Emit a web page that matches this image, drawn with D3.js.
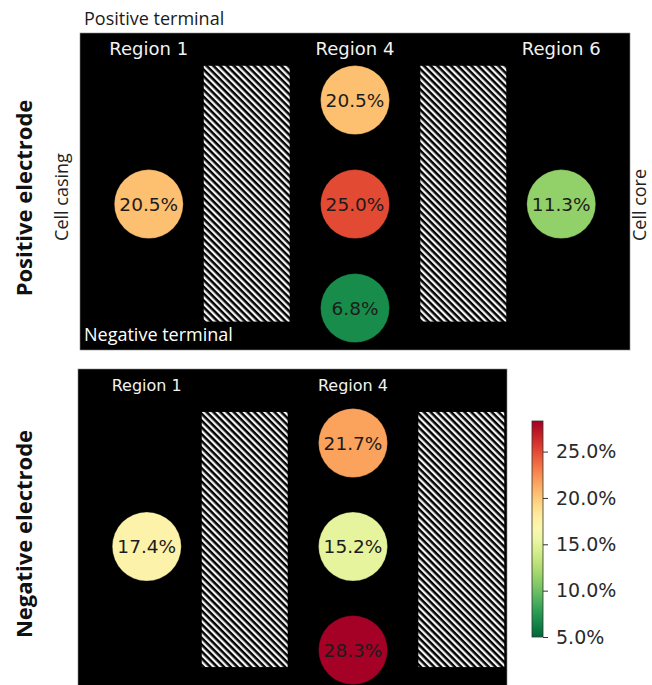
<!DOCTYPE html>
<html><head><meta charset="utf-8">
<script src="https://cdn.jsdelivr.net/npm/d3@7"></script>
<style>body{margin:0;background:#fff}svg{display:block}</style>
</head><body>
<script>
// ---- data ----
const topRegions = ["Region 1", "Region 4", "Region 6"];
const bottomRegions = ["Region 1", "Region 4"];
const posRegion = ["Region 1", "Region 4", "Region 4", "Region 4", "Region 6"];
const posRow = [2, 1, 2, 3, 2];
const posValues = [20.5, 20.5, 25.0, 6.8, 11.3];
const negRegion = ["Region 1", "Region 4", "Region 4", "Region 4"];
const negRow = [2, 1, 2, 3];
const negValues = [17.4, 21.7, 15.2, 28.3];
const colorTicks = [5, 10, 15, 20, 25];
const colorDomain = [5, 28.3];

const W = 652, H = 685;
const svg = d3.select("body").append("svg").attr("width", W).attr("height", H);
const defs = svg.append("defs");
const pat = defs.append("pattern").attr("id", "hatch").attr("patternUnits", "userSpaceOnUse")
  .attr("width", 4.8).attr("height", 10).attr("patternTransform", "rotate(-45)");
pat.append("rect").attr("width", 4.8).attr("height", 10).attr("fill", "#000");
pat.append("rect").attr("x", 0).attr("width", 2.3).attr("height", 10).attr("fill", "#f4f4f4");

const color = v => d3.interpolateRdYlGn(1 - (v - colorDomain[0]) / (colorDomain[1] - colorDomain[0]));

const colPos = {"Region 1": 1, "Region 4": 4, "Region 6": 7};
const hatches = [[1.8, 3.05], [4.95, 6.2]];

function panel(cfg) {
  const x = d3.scaleLinear().domain([0, 8]).range([cfg.x0, cfg.x0 + 550]);
  const y = d3.scaleLinear().domain([cfg.yd0, cfg.yd0 + 1]).range([cfg.y0, cfg.y0 + cfg.rowH]);
  const g = svg.append("g");
  const clipId = "clip" + cfg.id;
  defs.append("clipPath").attr("id", clipId).append("rect")
    .attr("x", cfg.x0).attr("y", cfg.y0).attr("width", cfg.w).attr("height", cfg.h);
  g.append("rect").attr("x", cfg.x0).attr("y", cfg.y0).attr("width", cfg.w).attr("height", cfg.h)
    .attr("fill", "#000").attr("stroke", "#888").attr("stroke-width", 0.6);
  const inner = g.append("g").attr("clip-path", `url(#${clipId})`);
  inner.selectAll("rect.h").data(hatches).join("rect").attr("class", "h")
    .attr("x", d => x(d[0])).attr("width", d => x(d[1]) - x(d[0]))
    .attr("y", y(cfg.hy[0])).attr("height", y(cfg.hy[1]) - y(cfg.hy[0]))
    .attr("fill", "url(#hatch)");
  g.selectAll("text.reg").data(cfg.regions).join("text").attr("class", "reg")
    .attr("x", d => x(colPos[d])).attr("y", cfg.labelY)
    .attr("text-anchor", "middle").attr("fill", "#f2f2f2")
    .attr("font-family", "DejaVu Sans").attr("font-size", cfg.labelSize).text(d => d);
  const pts = cfg.values.map((v, i) => ({v, r: cfg.rows[i], reg: cfg.regs[i]}));
  const c = inner.selectAll("g.pt").data(pts).join("g").attr("class", "pt")
    .attr("transform", d => `translate(${x(colPos[d.reg])},${y(d.r)})`);
  c.append("circle").attr("r", 34.5).attr("fill", d => color(d.v))
    .attr("stroke", "rgba(0,0,0,0.25)").attr("stroke-width", 1);
  c.append("text").attr("text-anchor", "middle").attr("dy", "0.36em")
    .attr("font-family", "DejaVu Sans").attr("font-size", 18.5).attr("fill", "#1c1c1c")
    .text(d => d.v.toFixed(1) + "%");
}

panel({id: 1, x0: 80, y0: 33, w: 550, h: 317, yd0: 0.355, rowH: 104, hy: [0.67, 3.13],
  regions: topRegions, labelY: 55, labelSize: 18,
  values: posValues, rows: posRow, regs: posRegion});
panel({id: 2, x0: 78, y0: 369, w: 429, h: 330, yd0: 0.285, rowH: 103.5, hy: [0.70, 3.165],
  regions: bottomRegions, labelY: 391, labelSize: 16,
  values: negValues, rows: negRow, regs: negRegion});

// annotations
const ann = (t, x, y, size, fill, rot, weight) => {
  const e = svg.append("text").attr("font-family", "Open Sans").attr("font-size", size)
    .attr("fill", fill).attr("font-weight", weight || 400).text(t);
  if (rot) e.attr("transform", `translate(${x},${y}) rotate(-90)`).attr("text-anchor", "middle");
  else e.attr("x", x).attr("y", y);
};
ann("Positive terminal", 84, 25, 18, "#1a1a1a");
ann("Negative terminal", 84, 341, 18, "#fff");
ann("Cell casing", 68, 197, 18, "#222", true);
ann("Cell core", 646, 205, 18, "#222", true);
ann("Positive electrode", 32, 198, 22, "#111", true, 700);
ann("Negative electrode", 32, 534, 22, "#111", true, 700);

// colorbar
const cb = {x: 532, w: 11, y0: 421, y1: 637};
const cy = d3.scaleLinear().domain(colorDomain).range([cb.y1, cb.y0]);
const grad = defs.append("linearGradient").attr("id", "cbg").attr("x1", 0).attr("y1", 1).attr("x2", 0).attr("y2", 0);
d3.range(0, 1.0001, 0.05).forEach(t => grad.append("stop").attr("offset", t)
  .attr("stop-color", color(colorDomain[0] + t * (colorDomain[1] - colorDomain[0]))));
svg.append("rect").attr("x", cb.x).attr("y", cb.y0).attr("width", cb.w).attr("height", cb.y1 - cb.y0)
  .attr("fill", "url(#cbg)").attr("stroke", "#333").attr("stroke-width", 0.8);
const axis = svg.append("g").attr("transform", `translate(${cb.x + cb.w},0)`)
  .call(d3.axisRight(cy).tickValues(colorTicks).tickSize(5).tickPadding(8).tickFormat(d => d.toFixed(1) + "%"));
axis.select(".domain").remove();
axis.selectAll(".tick line").attr("stroke", "#333");
axis.selectAll(".tick text").attr("font-family", "DejaVu Sans").attr("font-size", 19).attr("fill", "#2a2a2a");
</script>
</body></html>
